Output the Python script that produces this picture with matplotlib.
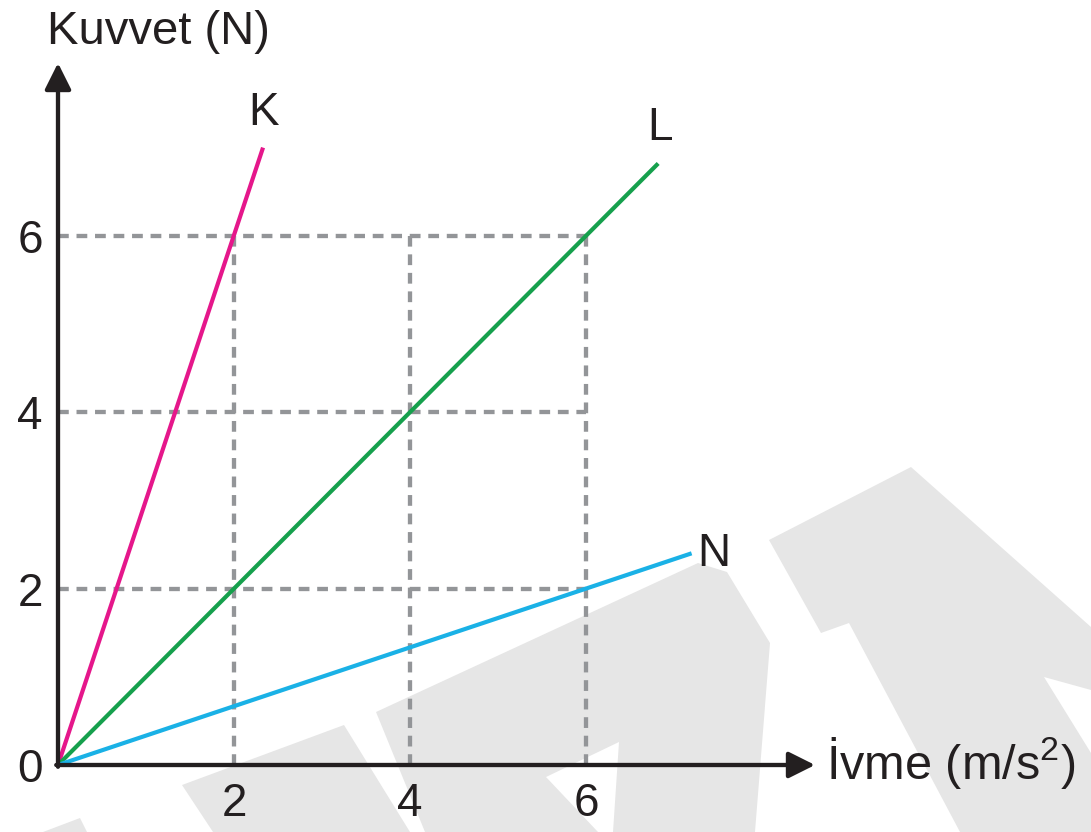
import matplotlib
matplotlib.use("Agg")
import matplotlib.pyplot as plt
from matplotlib.patches import Polygon

plt.rcParams.update({
    "font.family": ["Liberation Sans", "DejaVu Sans"],
    "mathtext.fontset": "custom",
    "mathtext.rm": "Liberation Sans",
    "mathtext.it": "Liberation Sans",
})

# --- data ---
K_X = [0, 2.33]; K_Y = [0, 7.0]
L_X = [0, 6.82]; L_Y = [0, 6.82]
N_X = [0, 7.2];  N_Y = [0, 2.4]
GUIDES = [2, 4, 6]                 # dashed helper lines
XTICKS = [2, 4, 6]
YTICKS = [0, 2, 4, 6]
LABEL_POS = {"K": (2.34, 7.39), "L": (6.84, 7.22), "N": (7.45, 2.39)}

PINK, GREEN, CYAN = "#e5178b", "#16a04d", "#1ab1e6"
GRAY, INK, WM = "#939598", "#231f20", "#e6e6e6"

W, H = 1091, 832
fig = plt.figure(figsize=(W / 100, H / 100), dpi=100)

# faint watermark shapes behind the chart (pixel outlines, decoration only)
wm_shapes = [
    [(182, 785), (344, 725), (410, 832), (213, 832)],
    [(376, 712), (698, 563), (727, 572), (770, 643), (755, 832), (613, 832),
     (619, 742), (546, 777), (598, 832), (425, 832)],
    [(769, 540), (911, 467), (1091, 627), (1091, 690), (1044, 677),
     (1091, 753), (1091, 832), (960, 832), (849, 623), (821, 633)],
    [(43, 832), (80, 818), (87, 832)],
]
for pts in wm_shapes:
    fig.patches.append(Polygon([(x / W, 1 - y / H) for x, y in pts], closed=True,
                               facecolor=WM, edgecolor="none",
                               transform=fig.transFigure, zorder=-5))

ax = fig.add_axes([58 / W, (H - 765) / H, (815 - 58) / W, (765 - 63) / H])
ax.patch.set_visible(False)
XMAX, YMAX = (815 - 58) / 88.0, (765 - 63) / 88.2
ax.set_xlim(0, XMAX); ax.set_ylim(0, YMAX)
for sp in ax.spines.values():
    sp.set_visible(False)

# dashed helper grid
dash = dict(color=GRAY, lw=3.1, dashes=(2.5, 1.8), zorder=1, solid_capstyle="butt")
top = max(GUIDES)
for g in GUIDES:
    ax.plot([0, top], [g, g], **dash)
    ax.plot([g, g], [0, top], **dash)

# force-acceleration lines
for xs, ys, c in ((K_X, K_Y, PINK), (L_X, L_Y, GREEN), (N_X, N_Y, CYAN)):
    ax.plot(xs, ys, color=c, lw=3.0, zorder=3, solid_capstyle="butt")
for name, (lx, ly) in LABEL_POS.items():
    ax.text(lx, ly, name, fontsize=33, color=INK, ha="center", va="center")

# axes drawn as arrows
arrow = dict(arrowstyle="-|>", lw=3.1, color=INK, shrinkA=0, shrinkB=0,
             mutation_scale=40)
ax.annotate("", xy=(XMAX, 0), xytext=(-0.02, 0), arrowprops=arrow,
            annotation_clip=False, zorder=4)
ax.annotate("", xy=(0, YMAX), xytext=(0, -0.02), arrowprops=arrow,
            annotation_clip=False, zorder=4)

ax.set_xticks(XTICKS)
ax.set_xticklabels([str(v) for v in XTICKS])
ax.set_yticks(YTICKS)
ax.set_yticklabels([str(v) for v in YTICKS])
ax.tick_params(axis="both", length=0, labelsize=33, colors=INK)
ax.tick_params(axis="x", pad=12)
ax.tick_params(axis="y", pad=11)

fig.text(47 / W, 1 - 32 / H, "Kuvvet (N)", fontsize=34, color=INK,
         ha="left", va="center")
fig.text(826 / W, 1 - 763 / H, "İvme (m/s$^2$)", fontsize=35, color=INK,
         ha="left", va="center")

fig.savefig("out.png", dpi=100, facecolor="white")
